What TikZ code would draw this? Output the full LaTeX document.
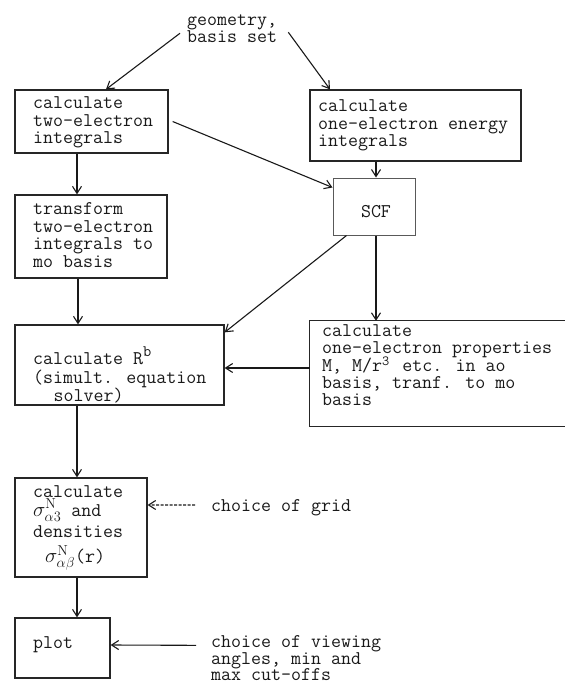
\documentclass[tikz,border=0pt]{standalone}
\usetikzlibrary{arrows.meta}
\newcommand{\txtblock}[1]{\begin{tabular}[t]{@{}l@{}}#1\end{tabular}}
\tikzset{
  box/.style={draw=black!85, line width=1.3pt, rectangle, inner sep=0pt},
  lbl/.style={inner sep=0pt, anchor=base west, text=black!90,
    font=\ttfamily\fontsize{19.4}{17.5}\selectfont},
  arr/.style={line width=1.1pt, draw=black!90,
    -{Straight Barb[length=7pt,width=9pt,line width=1.1pt]}},
}
\begin{document}
\begin{tikzpicture}[x=1pt,y=-1pt]
\useasboundingbox (0,0) rectangle (565,686);

% boxes
\node[box, minimum width=153pt, minimum height=63pt] (A) at (91.5,121.5) {};
\node[box, minimum width=211pt, minimum height=71pt] (B) at (415.5,125.5) {};
\node[box, draw=black!65, line width=1pt, minimum width=82pt, minimum height=57pt] (SCF) at (374,206.5) {};
\node[box, minimum width=152pt, minimum height=83pt] (C) at (91,236.5) {};
\node[box, minimum width=209pt, minimum height=80pt] (D) at (119.5,365) {};
\node[inner sep=0pt, minimum width=265pt, minimum height=105pt] (E) at (442.5,373.5) {};
\draw[line width=1.3pt, draw=black!85] (E.north east) -- (E.north west) -- (E.south west) -- (E.south east);
\node[box, minimum width=132pt, minimum height=99pt] (F) at (81,527.5) {};
\node[box, minimum width=95pt, minimum height=60pt] (G) at (62.5,648) {};

% texts
\node[lbl] (geo) at (187,25) {\txtblock{geometry,\\basis set}};
\node[lbl] (At) at (33,108.5) {\txtblock{calculate\\two-electron\\integrals}};
\node[lbl] (Bt) at (318,111.5) {\txtblock{calculate\\one-electron energy\\integrals}};
\node[lbl, anchor=base] (SCFt) at (376,217) {SCF};
\node[lbl] (Ct) at (33,214.5) {\txtblock{transform\\two-electron\\integrals to\\mo basis}};
\node[lbl] (Dt) at (33,364.5) {\txtblock{calculate R\smash{\raisebox{8pt}{\fontsize{16}{16}\selectfont b}}\\(simult. equation\\\hspace{20.4pt}solver)}};
\node[lbl, font=\ttfamily\fontsize{19.4}{16.6}\selectfont] (Et) at (322,336.5) {\txtblock{calculate\\one-electron properties\\M, M/r\makebox[10.2pt][l]{\smash{\raisebox{6pt}{\fontsize{14}{14}\selectfont 3}}} etc. in ao\\basis, tranf. to mo\\basis}};
\node[lbl] (Ft) at (33,497.5) {\txtblock{calculate\\[1.5pt]\smash{$\sigma^{\mathrm{N}}_{\alpha 3}$} and\\[3.5pt]densities\\[6.5pt]\hspace{12pt}\smash{$\sigma^{\mathrm{N}}_{\alpha\beta}$}(r)}};
\node[lbl] (Gt) at (33,648.5) {plot};
\node[lbl] (grid) at (211,511.5) {choice of grid};
\node[lbl, font=\ttfamily\fontsize{19.4}{16}\selectfont] (view) at (211,647.5) {\txtblock{choice of viewing\\angles, min and\\max cut-offs}};

% connectors
\draw[arr] ([xshift=-7pt,yshift=-3pt]geo.west) -- ([xshift=14.5pt]A.north);
\draw[arr] ([xshift=11pt,yshift=-2pt]geo.east) -- ([xshift=-85.5pt]B.north);
\draw[arr] ([xshift=4pt]A.east) -- ([yshift=-10pt]SCF.north west);
\draw[arr] ([xshift=-39.5pt]B.south) -- ([xshift=2pt]SCF.north);
\draw[arr] ([xshift=-14.5pt]A.south) -- ([xshift=-14pt]C.north);
\draw[arr] ([xshift=-13pt]C.south) -- ([xshift=-41.5pt]D.north);
\draw[arr] ([xshift=14pt]SCF.south west) -- ([yshift=-8pt]D.north east);
\draw[arr] ([xshift=2pt]SCF.south) -- ([xshift=-66.5pt]E.north);
\draw[arr] ([yshift=5.5pt]E.west) -- ([yshift=-3pt]D.east);
\draw[arr] ([xshift=-42.5pt]D.south) -- ([xshift=-4pt]F.north);
\draw[arr] ([xshift=-4pt]F.south) -- ([xshift=14.5pt]G.north);
\draw[arr, dash pattern=on 3pt off 1.5pt] ([xshift=-16pt,yshift=2.75pt]grid.west) -- ([yshift=22.5pt]F.east);
\draw[arr] ([xshift=-15pt,yshift=15.3pt]view.west) -- ([yshift=3pt]G.east);
\end{tikzpicture}
\end{document}
